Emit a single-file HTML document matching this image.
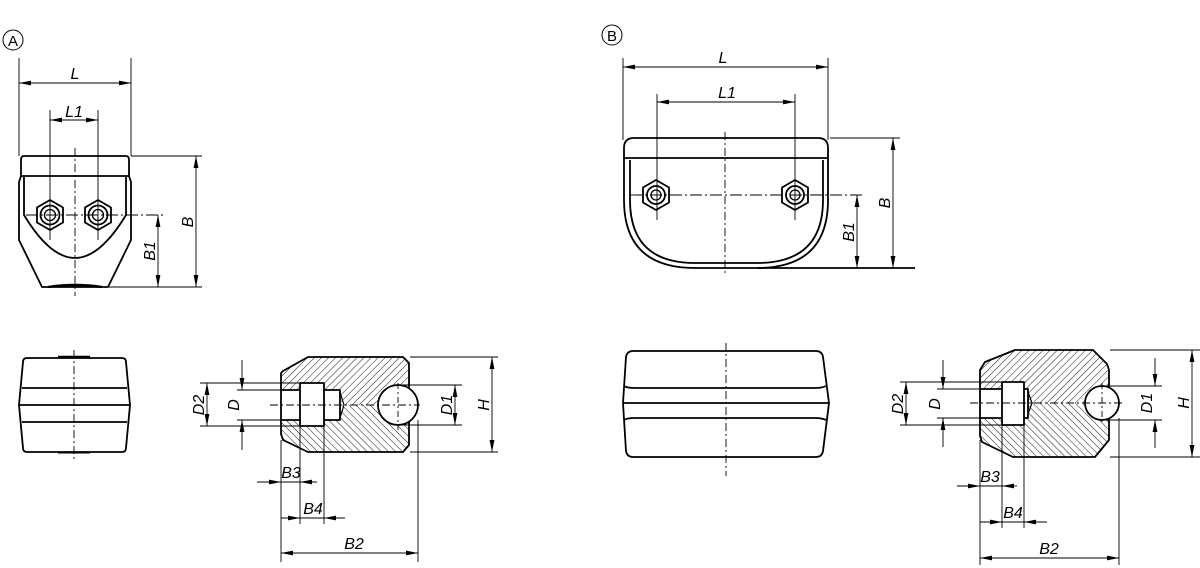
<!DOCTYPE html>
<html><head><meta charset="utf-8"><style>
html,body{margin:0;padding:0;background:#fff;}
svg{display:block;}
text{font-family:"Liberation Sans",sans-serif;font-style:italic;font-size:16px;fill:#000;}
</style></head><body>
<svg width="1200" height="568" viewBox="0 0 1200 568" xmlns="http://www.w3.org/2000/svg">
<defs>
<marker id="a" viewBox="0 0 12 6" refX="12" refY="3" markerWidth="12" markerHeight="6" markerUnits="userSpaceOnUse" orient="auto-start-reverse"><path d="M0,0.6 L12,3 L0,5.4 Z" fill="#000"/></marker>
<pattern id="h1" width="5" height="5" patternUnits="userSpaceOnUse" patternTransform="rotate(45)"><line x1="0" y1="0" x2="0" y2="5" stroke="#000" stroke-width="0.9"/></pattern>
<pattern id="h2" width="5" height="5" patternUnits="userSpaceOnUse" patternTransform="rotate(-45)"><line x1="0" y1="0" x2="0" y2="5" stroke="#000" stroke-width="0.9"/></pattern>
<clipPath id="upA"><rect x="0" y="0" width="600" height="405"/></clipPath>
<clipPath id="loA"><rect x="0" y="405" width="600" height="200"/></clipPath>
<clipPath id="upB"><rect x="600" y="0" width="600" height="403"/></clipPath>
<clipPath id="loB"><rect x="600" y="403" width="600" height="200"/></clipPath>
</defs>

<g fill="none" stroke="#000">
<!-- ===== A ===== -->
<circle cx="13" cy="40" r="10" stroke-width="1"/>
<g stroke-width="1.8" stroke-linejoin="round">
<path d="M24,156 L126,156 Q129,156 129,160 L129,176 L21,176 L21,160 Q21,156 24,156 Z"/>
<path d="M21,176 L19,182 L19,240 L42,287 L108,287 L131,240 L131,182 L129,176"/>
<path d="M24,177 L24,215 Q50,258 75,258 Q100,258 126,215 L126,177"/>
<path d="M48,287 Q75,283 102,287" stroke-width="2.4"/>
<polygon points="50,200 63,207.5 63,222.5 50,230 37,222.5 37,207.5"/>
<polygon points="98,200 111,207.5 111,222.5 98,230 85,222.5 85,207.5"/>
<circle cx="50" cy="215" r="9.5"/><circle cx="98" cy="215" r="9.5"/>
</g>
<circle cx="50" cy="215" r="5.5" stroke-width="1.3"/><circle cx="98" cy="215" r="5.5" stroke-width="1.3"/>
<g stroke-width="0.9">
<line x1="75" y1="148" x2="75" y2="296" stroke-dasharray="8,3,2,3"/>
<line x1="26" y1="215" x2="164" y2="215" stroke-dasharray="12,3,2,3"/>
<line x1="19" y1="58" x2="19" y2="156"/><line x1="131" y1="58" x2="131" y2="156"/>
<line x1="19" y1="83" x2="131" y2="83" marker-start="url(#a)" marker-end="url(#a)"/>
<line x1="50" y1="110" x2="50" y2="240"/><line x1="98" y1="110" x2="98" y2="240"/>
<line x1="50" y1="120" x2="98" y2="120" marker-start="url(#a)" marker-end="url(#a)"/>
<line x1="131" y1="156" x2="202" y2="156"/><line x1="108" y1="287" x2="202" y2="287"/>
<line x1="196" y1="156" x2="196" y2="287" marker-start="url(#a)" marker-end="url(#a)"/>
<line x1="158" y1="215" x2="158" y2="287" marker-start="url(#a)" marker-end="url(#a)"/>
</g>

<!-- side view A -->
<g stroke-width="1.8" stroke-linejoin="round">
<path d="M27,358 L122,358 Q126,358 126,362 L130,405 L126,448 Q126,452 122,452 L27,452 Q23,452 23,448 L19,405 L23,362 Q23,358 27,358 Z"/>
<line x1="19" y1="405" x2="130" y2="405"/>
<line x1="22" y1="388" x2="127" y2="388"/>
<line x1="22" y1="422" x2="127" y2="422"/>
<line x1="58" y1="357" x2="90" y2="357" stroke-width="2.4"/>
<line x1="58" y1="453" x2="90" y2="453" stroke-width="1"/>
</g>
<line x1="74" y1="350" x2="74" y2="460" stroke-width="0.9" stroke-dasharray="8,3,2,3"/>

<!-- section A -->
<path d="M308,357 L403,357 L409,363 L409,445 L403,452 L308,452 L283,440 L281,434 L281,373 L283,371 Z" fill="url(#h1)" stroke="none" clip-path="url(#upA)"/>
<path d="M308,357 L403,357 L409,363 L409,445 L403,452 L308,452 L283,440 L281,434 L281,373 L283,371 Z" fill="url(#h2)" stroke="none" clip-path="url(#loA)"/>
<rect x="281" y="390" width="60" height="30" fill="#fff" stroke="none"/>
<rect x="300" y="383" width="24" height="43" fill="#fff" stroke="none"/>
<circle cx="398" cy="405" r="20" fill="#fff" stroke="none"/>
<g stroke-width="1.8" stroke-linejoin="round">
<path d="M409,388 L409,363 L403,357 L308,357 L283,371 L281,373 L281,434 L283,440 L308,452 L403,452 L409,445 L409,422"/>
<rect x="300" y="383" width="24" height="43"/>
<path d="M324,390 L340,390 L340,420 L324,420 M281,390 L300,390 M281,420 L300,420"/>
<path d="M340,392 L344,405 L340,418" stroke-width="1.2"/>
<circle cx="398" cy="405" r="20"/>
</g>
<g stroke-width="0.9">
<line x1="270" y1="405" x2="420" y2="405" stroke-dasharray="8,3,2,3"/>
<line x1="398" y1="383" x2="398" y2="430" stroke-dasharray="6,3,2,3"/>
<line x1="200" y1="383" x2="300" y2="383"/><line x1="200" y1="426" x2="300" y2="426"/>
<line x1="207" y1="383" x2="207" y2="426" marker-start="url(#a)" marker-end="url(#a)"/>
<line x1="237" y1="390" x2="281" y2="390"/><line x1="237" y1="420" x2="281" y2="420"/>
<line x1="242" y1="360" x2="242" y2="390" marker-end="url(#a)"/>
<line x1="242" y1="450" x2="242" y2="420" marker-end="url(#a)"/>
<line x1="400" y1="385" x2="462" y2="385"/><line x1="400" y1="425" x2="462" y2="425"/>
<line x1="455" y1="385" x2="455" y2="425" marker-start="url(#a)" marker-end="url(#a)"/>
<line x1="410" y1="357" x2="498" y2="357"/><line x1="410" y1="452" x2="498" y2="452"/>
<line x1="492" y1="357" x2="492" y2="452" marker-start="url(#a)" marker-end="url(#a)"/>
<line x1="281" y1="440" x2="281" y2="562"/><line x1="300" y1="426" x2="300" y2="524"/><line x1="324" y1="426" x2="324" y2="524"/>
<line x1="418" y1="420" x2="418" y2="562"/>
<line x1="257" y1="482" x2="281" y2="482" marker-end="url(#a)"/>
<line x1="317" y1="482" x2="300" y2="482" marker-end="url(#a)"/>
<line x1="281" y1="482" x2="300" y2="482"/>
<line x1="281" y1="518" x2="300" y2="518" marker-end="url(#a)"/>
<line x1="345" y1="518" x2="324" y2="518" marker-end="url(#a)"/>
<line x1="300" y1="518" x2="324" y2="518"/>
<line x1="281" y1="553" x2="418" y2="553" marker-start="url(#a)" marker-end="url(#a)"/>
</g>

<!-- ===== B ===== -->
<circle cx="612" cy="35" r="10" stroke-width="1"/>
<g stroke-width="1.8" stroke-linejoin="round">
<path d="M634,138 L818,138 Q828,138 828,148 L828,158 L624,158 L624,148 Q624,138 634,138 Z"/>
<path d="M624,158 L624,200 Q624,268 695,268 L757,268 Q828,268 828,200 L828,158"/>
<path d="M630,160 L630,200 Q630,263 695,263 L757,263 Q823,263 823,200 L823,160"/>
<polygon points="656,180 669,187.5 669,202.5 656,210 643,202.5 643,187.5"/>
<polygon points="795,180 808,187.5 808,202.5 795,210 782,202.5 782,187.5"/>
<circle cx="656" cy="195" r="9"/><circle cx="795" cy="195" r="9"/>
</g>
<circle cx="656" cy="195" r="5" stroke-width="1.3"/><circle cx="795" cy="195" r="5" stroke-width="1.3"/>
<g stroke-width="0.9">
<line x1="725" y1="132" x2="725" y2="276" stroke-dasharray="8,3,2,3"/>
<line x1="630" y1="195" x2="865" y2="195" stroke-dasharray="12,3,2,3"/>
<line x1="623" y1="58" x2="623" y2="140"/><line x1="828" y1="58" x2="828" y2="140"/>
<line x1="623" y1="67" x2="828" y2="67" marker-start="url(#a)" marker-end="url(#a)"/>
<line x1="657" y1="94" x2="657" y2="220"/><line x1="795" y1="94" x2="795" y2="220"/>
<line x1="657" y1="102" x2="795" y2="102" marker-start="url(#a)" marker-end="url(#a)"/>
<line x1="830" y1="138" x2="900" y2="138"/>
<line x1="893" y1="138" x2="893" y2="268" marker-start="url(#a)" marker-end="url(#a)"/>
<line x1="857" y1="195" x2="857" y2="268" marker-start="url(#a)" marker-end="url(#a)"/>
</g>
<line x1="757" y1="268" x2="915" y2="268" stroke-width="1.8"/>

<!-- side view B -->
<g stroke-width="1.8" stroke-linejoin="round">
<path d="M633,351 L816,351 Q822,351 823,357 L829,403 L823,451 Q822,457 816,457 L633,457 Q627,457 626,451 L623,403 L626,357 Q627,351 633,351 Z"/>
<line x1="623" y1="403" x2="829" y2="403"/>
<path d="M624,386 Q627,388 635,388 L815,388 Q822,388 826,386"/>
<path d="M624,420 Q627,418 635,418 L815,418 Q822,418 826,420"/>
</g>
<line x1="726" y1="343" x2="726" y2="476" stroke-width="0.9" stroke-dasharray="8,3,2,3"/>

<!-- section B -->
<path d="M1015,350 L1093,350 L1107,364 L1109,370 L1109,440 L1095,457 L1013,457 L982,442 L980,436 L980,370 L985,362 Z" fill="url(#h1)" stroke="none" clip-path="url(#upB)"/>
<path d="M1015,350 L1093,350 L1107,364 L1109,370 L1109,440 L1095,457 L1013,457 L982,442 L980,436 L980,370 L985,362 Z" fill="url(#h2)" stroke="none" clip-path="url(#loB)"/>
<rect x="980" y="389" width="48" height="29" fill="#fff" stroke="none"/>
<rect x="1002" y="382" width="22" height="43" fill="#fff" stroke="none"/>
<circle cx="1102" cy="403" r="17" fill="#fff" stroke="none"/>
<g stroke-width="1.8" stroke-linejoin="round">
<path d="M1109,388 L1109,370 L1107,364 L1093,350 L1015,350 L985,362 L980,370 L980,436 L982,442 L1013,457 L1095,457 L1109,440 L1109,418"/>
<rect x="1002" y="382" width="22" height="43"/>
<path d="M980,389 L1002,389 M980,418 L1002,418 M1024,389 L1028,389 L1028,418 L1024,418"/>
<path d="M1028,392 L1032,403 L1028,414" stroke-width="1.2"/>
<circle cx="1102" cy="403" r="17"/>
</g>
<g stroke-width="0.9">
<line x1="970" y1="403" x2="1125" y2="403" stroke-dasharray="8,3,2,3"/>
<line x1="1102" y1="383" x2="1102" y2="425" stroke-dasharray="6,3,2,3"/>
<line x1="900" y1="382" x2="1002" y2="382"/><line x1="900" y1="425" x2="1002" y2="425"/>
<line x1="906" y1="382" x2="906" y2="425" marker-start="url(#a)" marker-end="url(#a)"/>
<line x1="937" y1="389" x2="980" y2="389"/><line x1="937" y1="418" x2="980" y2="418"/>
<line x1="943" y1="360" x2="943" y2="389" marker-end="url(#a)"/>
<line x1="943" y1="447" x2="943" y2="418" marker-end="url(#a)"/>
<line x1="1105" y1="386" x2="1162" y2="386"/><line x1="1105" y1="420" x2="1162" y2="420"/>
<line x1="1155" y1="358" x2="1155" y2="386" marker-end="url(#a)"/>
<line x1="1155" y1="448" x2="1155" y2="420" marker-end="url(#a)"/>
<line x1="1110" y1="350" x2="1200" y2="350"/><line x1="1110" y1="457" x2="1200" y2="457"/>
<line x1="1192" y1="350" x2="1192" y2="457" marker-start="url(#a)" marker-end="url(#a)"/>
<line x1="980" y1="440" x2="980" y2="565"/><line x1="1002" y1="425" x2="1002" y2="528"/><line x1="1024" y1="425" x2="1024" y2="528"/>
<line x1="1119" y1="418" x2="1119" y2="565"/>
<line x1="957" y1="486" x2="980" y2="486" marker-end="url(#a)"/>
<line x1="1017" y1="486" x2="1002" y2="486" marker-end="url(#a)"/>
<line x1="980" y1="486" x2="1002" y2="486"/>
<line x1="980" y1="522" x2="1002" y2="522" marker-end="url(#a)"/>
<line x1="1047" y1="522" x2="1024" y2="522" marker-end="url(#a)"/>
<line x1="1002" y1="522" x2="1024" y2="522"/>
<line x1="980" y1="558" x2="1119" y2="558" marker-start="url(#a)" marker-end="url(#a)"/>
</g>
</g>

<!-- text -->
<text x="13" y="46" text-anchor="middle" style="font-style:normal;font-size:15px">A</text>
<text x="612" y="41" text-anchor="middle" style="font-style:normal;font-size:15px">B</text>
<text x="75" y="79" text-anchor="middle">L</text>
<text x="74" y="117" text-anchor="middle">L1</text>
<text transform="translate(193,222) rotate(-90)" text-anchor="middle">B</text>
<text transform="translate(155,251) rotate(-90)" text-anchor="middle">B1</text>
<text transform="translate(204,405) rotate(-90)" text-anchor="middle">D2</text>
<text transform="translate(239,405) rotate(-90)" text-anchor="middle">D</text>
<text transform="translate(452,405) rotate(-90)" text-anchor="middle">D1</text>
<text transform="translate(489,405) rotate(-90)" text-anchor="middle">H</text>
<text x="291" y="478" text-anchor="middle">B3</text>
<text x="313" y="514" text-anchor="middle">B4</text>
<text x="354" y="549" text-anchor="middle">B2</text>
<text x="723" y="63" text-anchor="middle">L</text>
<text x="727" y="98" text-anchor="middle">L1</text>
<text transform="translate(890,203) rotate(-90)" text-anchor="middle">B</text>
<text transform="translate(854,232) rotate(-90)" text-anchor="middle">B1</text>
<text transform="translate(903,404) rotate(-90)" text-anchor="middle">D2</text>
<text transform="translate(940,404) rotate(-90)" text-anchor="middle">D</text>
<text transform="translate(1152,403) rotate(-90)" text-anchor="middle">D1</text>
<text transform="translate(1189,403) rotate(-90)" text-anchor="middle">H</text>
<text x="990" y="482" text-anchor="middle">B3</text>
<text x="1013" y="518" text-anchor="middle">B4</text>
<text x="1049" y="554" text-anchor="middle">B2</text>
</svg>
</body></html>
